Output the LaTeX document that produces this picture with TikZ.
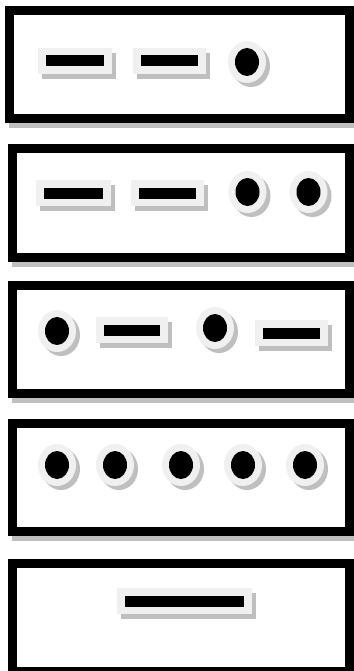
\documentclass[tikz,border=0pt]{standalone}
\begin{document}
\begin{tikzpicture}[x=1pt, y=-1pt, line join=miter]
	\tikzset{shadow/.style={fill=black!25}, plate/.style={fill=black!6}, bay/.style={draw=black, fill=white, line width=9pt}}
	\def\slot#1#2#3{\fill[shadow] (#1-#3/2+4,#2-8) rectangle (#1+#3/2+4,#2+18);
		\fill[plate] (#1-#3/2,#2-13) rectangle (#1+#3/2,#2+13);
		\fill (#1-#3/2+8,#2-5.5) rectangle (#1+#3/2-8,#2+5.5);}
	\def\jack#1#2{\fill[shadow] (#1+4,#2+4) ellipse[x radius=19pt, y radius=21pt];
		\fill[plate] (#1,#2) ellipse[x radius=19pt, y radius=21pt];
		\fill (#1,#2) ellipse[x radius=12pt, y radius=14pt];}
	\useasboundingbox (0,0) rectangle (353,671);
	% bays
	\foreach \l/\t in {9.5/10.5, 12.5/149, 12.5/285, 12.5/423, 12.5/563} {
		\fill[shadow] (\l-0.5,\t+0.5) rectangle (357.5,\t+117.5);
		\draw[bay] (\l,\t) rectangle (349,\t+108);
	}
	% ports
	\slot{75}{61}{74} \slot{169.5}{61}{73} \jack{247}{62}
	\foreach \x/\w in {73.5/75, 167.5/73} {\slot{\x}{193}{\w}}
	\foreach \x in {247.5, 308.5} {\jack{\x}{192}}
	\jack{57}{331} \slot{132}{330}{72} \jack{215}{328} \slot{291.5}{333}{73}
	\foreach \x in {57, 115, 181, 243, 305} {\jack{\x}{465}}
	\slot{184.5}{601}{135}
\end{tikzpicture}
\end{document}
